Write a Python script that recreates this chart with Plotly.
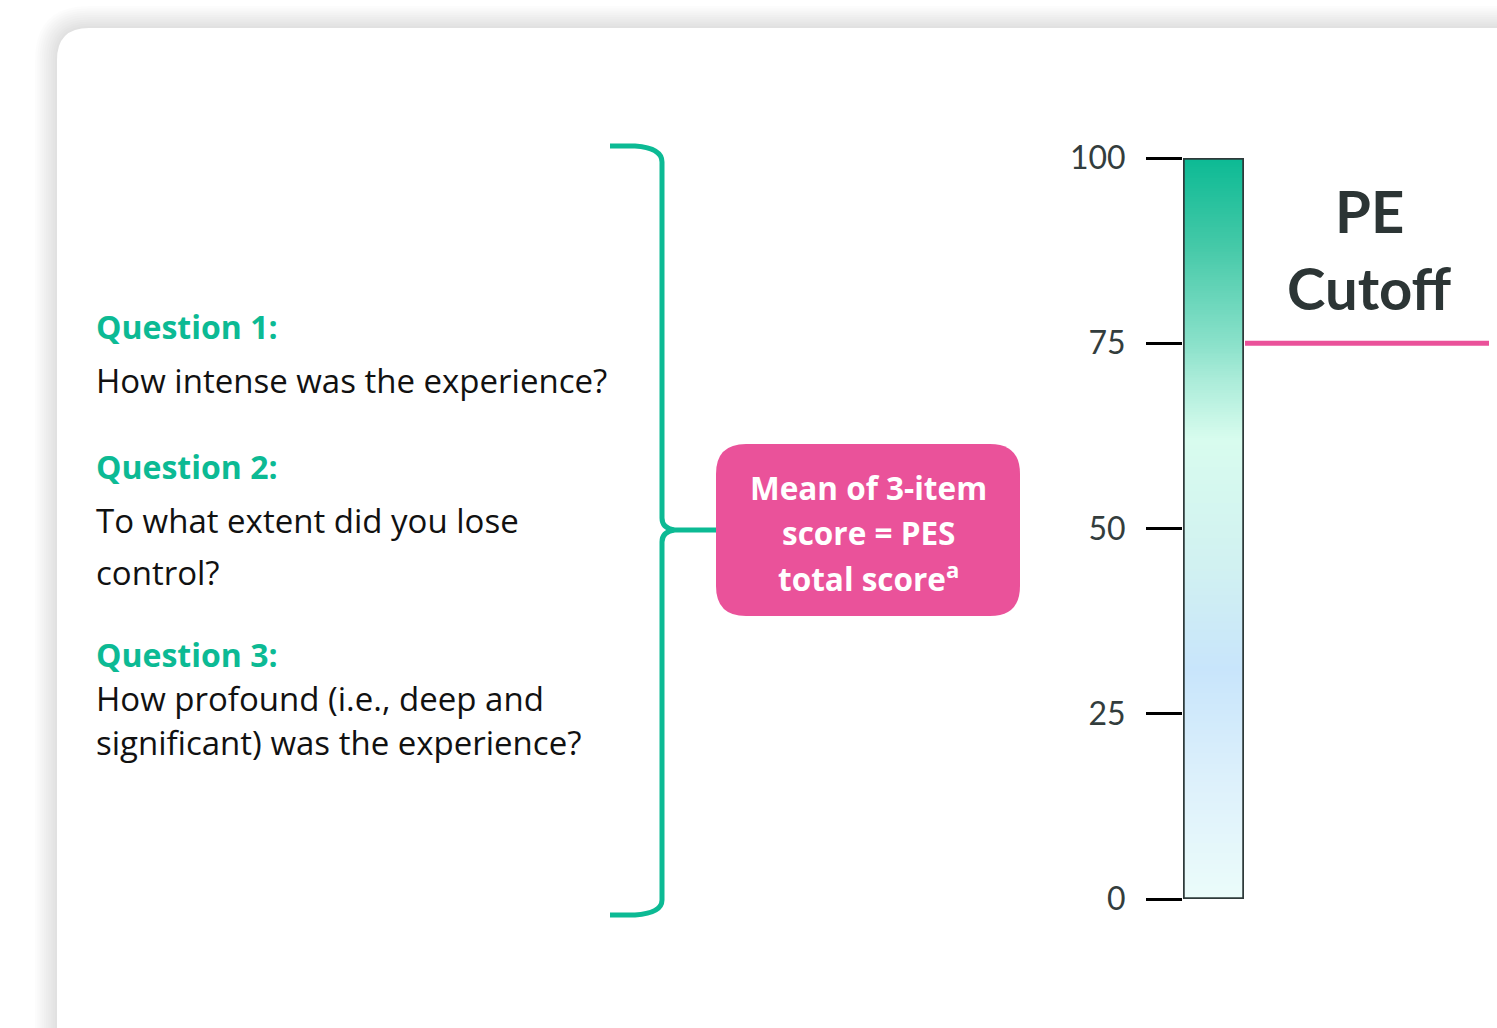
import plotly.graph_objects as go
import numpy as np

W, H = 1497, 1028

# ---- data ----
scale_ticks = [0, 25, 50, 75, 100]
scale_labels = ["0", "25", "50", "75", "100"]
cutoff = 75
questions = ["Question 1:", "Question 2:", "Question 3:"]
question_text = [
    ["How intense was the experience?"],
    ["To what extent did you lose", "control?"],
    ["How profound (i.e., deep and", "significant) was the experience?"],
]
box_lines = ["Mean of 3-item", "score = PES", "total score<sup>a</sup>"]
cutoff_label = ["PE", "Cutoff"]
grad_stops = [
    (0.00, "#ebfcfa"),
    (0.15, "#def1fb"),
    (0.31, "#c8e5fb"),
    (0.45, "#d1f1f1"),
    (0.62, "#d8fcee"),
    (0.70, "#abecd9"),
    (0.75, "#8ae1ca"),
    (0.88, "#45c9a8"),
    (1.00, "#0cba94"),
]

TEAL = "#0cba94"
PINK = "#ea529a"
DARK = "#333d3d"
FONT = "Open Sans"
FONT2 = "Lato"

fig = go.Figure()

# gradient bar (heatmap on the score axis)
levels = np.linspace(0.125, 99.875, 400)
fig.add_trace(go.Heatmap(
    x=[0.5], y=levels, z=[[v] for v in levels],
    colorscale=[[s, c] for s, c in grad_stops], zmin=0, zmax=100,
    showscale=False, hoverinfo="skip", xaxis="x2", yaxis="y2"))

shapes = []

def rrect(x0, y0, x1, y1, r):
    return (f"M {x0+r},{y0} L {x1-r},{y0} Q {x1},{y0} {x1},{y0+r} L {x1},{y1-r} "
            f"Q {x1},{y1} {x1-r},{y1} L {x0+r},{y1} Q {x0},{y1} {x0},{y1-r} "
            f"L {x0},{y0+r} Q {x0},{y0} {x0+r},{y0} Z")

# card shadow
for i in range(10, 0, -1):
    e = i * 2.2
    shapes.append(dict(type="path", xref="x", yref="y", layer="below",
                       path=rrect(57 - e, 28 - e, 1600 + e, 1150 + e, 32 + e),
                       fillcolor="rgba(0,0,0,0.011)", line=dict(width=0)))
shapes.append(dict(type="path", xref="x", yref="y", layer="below",
                   path=rrect(57, 28, 1600, 1150, 32),
                   fillcolor="white", line=dict(width=0)))

# brace
shapes.append(dict(type="path", xref="x", yref="y",
                   path="M 610 146 L 635 146 Q 662 148 662 162 L 662 518 Q 662 528 674 530 "
                        "Q 662 532 662 542 L 662 900 Q 662 913 635 915 L 610 915",
                   line=dict(color=TEAL, width=5)))
shapes.append(dict(type="line", xref="x", yref="y", x0=672, x1=718, y0=530, y1=530,
                   line=dict(color=TEAL, width=5)))

# pink box
shapes.append(dict(type="path", xref="x", yref="y", path=rrect(716, 444, 1020, 616, 30),
                   fillcolor=PINK, line=dict(width=0)))

# bar border
shapes.append(dict(type="rect", xref="x2", yref="y2", x0=0, x1=1, y0=0, y1=100,
                   line=dict(color="#2e3a3a", width=3.5), fillcolor="rgba(0,0,0,0)"))
# cutoff line
shapes.append(dict(type="line", xref="x", yref="y2", x0=1245, x1=1489, y0=cutoff, y1=cutoff,
                   line=dict(color=PINK, width=5)))

ann = []
def txt(x, y, s, size, color, bold=False, xanchor="left", family=FONT):
    ann.append(dict(x=x, y=y, xref="x", yref="y", text=f"<b>{s}</b>" if bold else s,
                    showarrow=False, xanchor=xanchor, yanchor="middle",
                    font=dict(family=family, size=size, color=color)))

q_y = [326, 466, 654]
t_y = [[380], [520, 572], [698, 742]]
for q, qy, lines, ys in zip(questions, q_y, question_text, t_y):
    txt(94, qy, q, 32, TEAL, bold=True)
    for l, ly in zip(lines, ys):
        txt(94, ly, l, 33, "#111111")

for l, ly in zip(box_lines, [487, 532, 577]):
    txt(868, ly, l, 31.5, "white", bold=True, xanchor="center")

for l, ly in zip(cutoff_label, [210, 287]):
    txt(1369, ly, l, 58, "#2c3535", bold=True, xanchor="center", family=FONT2)

fig.update_layout(
    template="none", autosize=False,
    width=W, height=H, margin=dict(l=0, r=0, t=0, b=0, pad=0, autoexpand=False),
    paper_bgcolor="white", plot_bgcolor="rgba(0,0,0,0)",
    showlegend=False, shapes=shapes, annotations=ann,
    xaxis=dict(range=[0, W], visible=False, domain=[0, 1], fixedrange=True, automargin=False),
    yaxis=dict(range=[H, 0], visible=False, domain=[0, 1], fixedrange=True, automargin=False),
    xaxis2=dict(domain=[1183 / W, 1244 / W], range=[0, 1], visible=False, anchor="y2",
                automargin=False),
    yaxis2=dict(domain=[(H - 899) / H, (H - 158) / H], range=[0, 100], anchor="x2",
                tickvals=scale_ticks, ticktext=scale_labels, ticks="outside",
                ticklen=36, tickwidth=3, tickcolor="black", showgrid=False,
                zeroline=False, showline=False, ticklabelstandoff=14, automargin=False,
                tickfont=dict(family=FONT2, size=32, color=DARK)),
)

fig.write_html("out.html", post_script="document.body.style.margin='0';",
               config={"displayModeBar": False})
